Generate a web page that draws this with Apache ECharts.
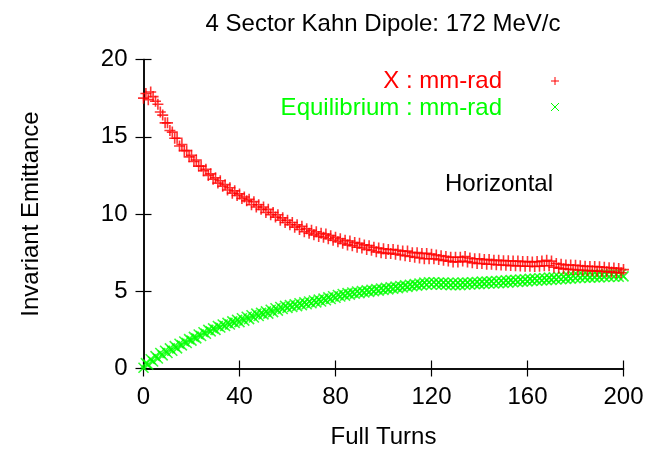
<!DOCTYPE html>
<html><head><meta charset="utf-8">
<script src="https://cdn.jsdelivr.net/npm/echarts@6/dist/echarts.min.js"></script>
<style>html,body{margin:0;padding:0;background:#fff}#c{width:654px;height:450px}</style>
</head><body><div id="c"></div>
<script>
const titleText = "4 Sector Kahn Dipole: 172 MeV/c";
const xName = "Full Turns";
const yName = "Invariant Emittance";
const seriesNames = ["X : mm-rad", "Equilibrium : mm-rad"];
const annotation = "Horizontal";
const xTicks = [0, 40, 80, 120, 160, 200];
const yTicks = [0, 5, 10, 15, 20];
const turns = [0,1,2,3,4,5,6,7,8,9,10,11,12,13,14,15,16,17,18,19,20,21,22,23,24,25,26,27,28,29,30,31,32,33,34,35,36,37,38,39,40,41,42,43,44,45,46,47,48,49,50,51,52,53,54,55,56,57,58,59,60,61,62,63,64,65,66,67,68,69,70,71,72,73,74,75,76,77,78,79,80,81,82,83,84,85,86,87,88,89,90,91,92,93,94,95,96,97,98,99,100,101,102,103,104,105,106,107,108,109,110,111,112,113,114,115,116,117,118,119,120,121,122,123,124,125,126,127,128,129,130,131,132,133,134,135,136,137,138,139,140,141,142,143,144,145,146,147,148,149,150,151,152,153,154,155,156,157,158,159,160,161,162,163,164,165,166,167,168,169,170,171,172,173,174,175,176,177,178,179,180,181,182,183,184,185,186,187,188,189,190,191,192,193,194,195,196,197,198,199,200];
const xEmit = [17.5,17.8,17.4,17.9,17.6,17.3,17.1,16.6,16.4,15.9,15.9,15.4,15.3,14.9,14.9,14.4,14.5,14.1,14.1,13.7,13.8,13.4,13.5,13.1,13.1,12.8,12.9,12.5,12.6,12.25,12.35,12.0,12.15,11.8,11.9,11.55,11.7,11.35,11.5,11.2,11.3,11.0,11.1,10.85,10.95,10.6,10.8,10.45,10.6,10.3,10.45,10.1,10.3,9.95,10.1,9.8,9.95,9.6,9.75,9.45,9.6,9.3,9.45,9.15,9.3,9.0,9.2,8.85,9.05,8.75,8.95,8.65,8.85,8.55,8.75,8.5,8.7,8.4,8.6,8.3,8.5,8.2,8.4,8.1,8.3,8.0,8.25,7.95,8.15,7.85,8.1,7.8,8.0,7.7,7.95,7.65,7.85,7.55,7.8,7.5,7.75,7.45,7.7,7.45,7.7,7.4,7.65,7.35,7.6,7.3,7.6,7.25,7.5,7.2,7.5,7.15,7.45,7.1,7.45,7.1,7.4,7.1,7.35,7.05,7.3,7.0,7.25,6.95,7.2,6.9,7.2,6.9,7.2,6.95,7.25,6.9,7.15,6.85,7.1,6.8,7.1,6.8,7.05,6.75,7.05,6.75,7.0,6.72,7.0,6.7,6.98,6.68,6.97,6.66,6.95,6.65,6.95,6.63,6.92,6.62,6.92,6.62,6.9,6.6,6.92,6.62,6.95,6.65,7.0,6.65,6.95,6.55,6.8,6.5,6.75,6.45,6.7,6.42,6.7,6.4,6.68,6.38,6.65,6.36,6.62,6.34,6.6,6.32,6.6,6.3,6.58,6.28,6.55,6.26,6.52,6.24,6.5,6.22,6.48,6.2,6.4];
const eqEmit = [0.05,0.35,0.25,0.6,0.45,0.8,0.65,1.0,0.85,1.15,1.0,1.3,1.15,1.45,1.3,1.6,1.5,1.75,1.65,1.9,1.8,2.05,1.95,2.2,2.1,2.35,2.25,2.5,2.4,2.6,2.5,2.75,2.65,2.85,2.75,2.95,2.85,3.05,2.95,3.15,3.0,3.25,3.1,3.35,3.2,3.45,3.3,3.55,3.4,3.6,3.5,3.7,3.55,3.8,3.65,3.9,3.75,3.98,3.85,4.05,3.92,4.1,3.98,4.16,4.04,4.22,4.1,4.28,4.16,4.34,4.22,4.4,4.28,4.46,4.34,4.52,4.42,4.6,4.5,4.68,4.58,4.76,4.66,4.82,4.72,4.88,4.78,4.92,4.84,4.98,4.88,5.02,4.92,5.06,4.96,5.1,5.0,5.14,5.04,5.18,5.08,5.22,5.12,5.26,5.16,5.3,5.2,5.34,5.24,5.38,5.28,5.42,5.32,5.46,5.36,5.5,5.4,5.56,5.42,5.58,5.44,5.58,5.44,5.56,5.42,5.56,5.42,5.55,5.4,5.55,5.4,5.55,5.4,5.56,5.42,5.56,5.44,5.58,5.46,5.6,5.46,5.62,5.48,5.62,5.5,5.64,5.5,5.66,5.52,5.68,5.54,5.7,5.56,5.72,5.58,5.74,5.6,5.76,5.62,5.78,5.64,5.8,5.66,5.82,5.68,5.84,5.7,5.86,5.72,5.88,5.74,5.9,5.76,5.92,5.78,5.94,5.8,5.96,5.82,6.0,5.84,6.02,5.86,6.04,5.88,6.06,5.88,6.06,5.9,6.08,5.9,6.08,5.92,6.1,5.92,6.1,5.94,6.1,5.94,6.12,5.96];

const FONT = "'Liberation Sans', Arial, sans-serif";
const FS = 24;
const RED = '#ff0000', GREEN = '#00ff00';
const plusPath = 'path://M0,5L10,5M5,0L5,10';
const crossPath = 'path://M0,0L10,10M0,10L10,0';

const chart = echarts.init(document.getElementById('c'), null, {renderer: 'canvas'});
const axisLine = {lineStyle: {color: '#000', width: 1.5}};
const tickIn = {inside: true, length: 8, lineStyle: {color: '#000', width: 1.2}};
const lbl = {color: '#000', fontFamily: FONT, fontSize: FS};
function seg(x1, y1, x2, y2, c) {
  return {type: 'line', shape: {x1: x1, y1: y1, x2: x2, y2: y2}, style: {stroke: c, lineWidth: 1}, silent: true};
}
chart.setOption({
  animation: false,
  backgroundColor: '#fff',
  title: {text: titleText, left: 378, top: 7, textAlign: 'center',
    textStyle: {fontFamily: FONT, fontSize: FS, fontWeight: 'normal', color: '#000'}},
  grid: {left: 143.5, right: 30.5, top: 59.5, bottom: 81.5, containLabel: false, outerBoundsMode: 'none'},
  xAxis: [
    {type: 'value', min: 0, max: 200, interval: 40, position: 'bottom',
     name: xName, nameLocation: 'middle', nameGap: 57,
     nameTextStyle: {color: '#000', fontFamily: FONT, fontSize: FS},
     axisLine: axisLine, axisTick: tickIn, splitLine: {show: false},
     axisLabel: Object.assign({margin: 17, formatter: v => xTicks.includes(v) ? String(v) : ''}, lbl)},
    {type: 'value', min: 0, max: 200, interval: 40, position: 'top',
     axisLine: axisLine, axisTick: tickIn, splitLine: {show: false}, axisLabel: {show: false}}
  ],
  yAxis: [
    {type: 'value', min: 0, max: 20, interval: 5, position: 'left',
     name: yName, nameLocation: 'middle', nameGap: 100, nameRotate: 90,
     nameTextStyle: {color: '#000', fontFamily: FONT, fontSize: FS},
     axisLine: axisLine, axisTick: tickIn, splitLine: {show: false},
     axisLabel: Object.assign({margin: 16, formatter: v => yTicks.includes(v) ? String(v) : ''}, lbl)},
    {type: 'value', min: 0, max: 20, interval: 5, position: 'right',
     axisLine: axisLine, axisTick: tickIn, splitLine: {show: false}, axisLabel: {show: false}}
  ],
  series: [
    {name: seriesNames[1], type: 'scatter', xAxisIndex: 0, yAxisIndex: 0,
     symbol: crossPath, symbolSize: 10,
     itemStyle: {color: 'rgba(0,0,0,0)', borderColor: GREEN, borderWidth: 1.6},
     data: turns.map((t, i) => [t, eqEmit[i]])},
    {name: seriesNames[0], type: 'scatter', xAxisIndex: 0, yAxisIndex: 0,
     symbol: plusPath, symbolSize: 11,
     itemStyle: {color: 'rgba(0,0,0,0)', borderColor: RED, borderWidth: 1.6},
     data: turns.map((t, i) => [t, xEmit[i]])}
  ],
  graphic: [
    {type: 'text', x: 502, y: 69,
     style: {text: seriesNames[0], fill: RED, font: FS + 'px ' + FONT, textAlign: 'right'}},
    {type: 'text', x: 502, y: 96,
     style: {text: seriesNames[1], fill: GREEN, font: FS + 'px ' + FONT, textAlign: 'right'}},
    seg(551, 81, 559, 81, RED), seg(555, 77, 555, 85, RED),
    seg(551, 103, 559, 111, GREEN), seg(551, 111, 559, 103, GREEN),
    {type: 'text', x: 445, y: 172,
     style: {text: annotation, fill: '#000', font: FS + 'px ' + FONT}}
  ]
});
</script></body></html>
